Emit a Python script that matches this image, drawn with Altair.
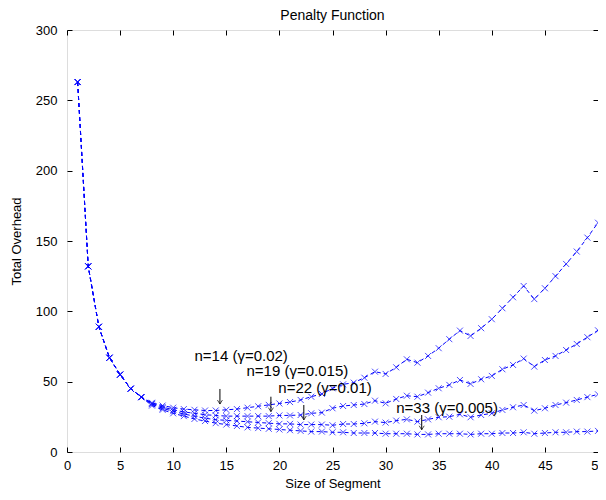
import altair as alt
import pandas as pd

n_values = list(range(1, 51))

overhead_g020 = [263, 132, 89, 67, 55, 45, 39, 35, 33, 31.5,
                 30.5, 30, 29.5, 29.5, 30, 30.5, 31.5, 32.5, 33.5, 34.5,
                 35.5, 37, 39.3, 41.3, 45.3, 48.1, 49.3, 52.8, 57.1, 55.5,
                 60.2, 65.9, 63.5, 68.3, 73.8, 80.2, 86.3, 82.5, 88, 94.4,
                 102.2, 110, 118, 108.7, 116.4, 125, 133.7, 142.5, 152.4, 163]
overhead_g015 = [263, 132, 89, 67, 55, 45, 39, 34.5, 32, 30,
                 28.5, 27.5, 26.5, 26, 25.5, 25.5, 25.5, 25.5, 25.5, 26,
                 26, 26.3, 27.5, 28, 31.1, 32.7, 33.4, 34.1, 36.5, 34.6,
                 37.7, 40, 39.3, 42.2, 45.3, 47.7, 51.2, 48.4, 51.7, 54.1,
                 58.8, 61.9, 66.4, 60.7, 65.4, 68.3, 72.5, 76.8, 81.6, 86.5]
overhead_g010 = [263, 132, 89, 67, 55, 45, 39, 34, 31, 29,
                 27, 25.5, 24, 23, 22.5, 22, 21.5, 21, 20.5, 20,
                 20, 19.5, 19.5, 19.5, 19, 19.9, 19.9, 20.4, 21.6, 20.9,
                 22.3, 23.2, 21.6, 23.2, 24.7, 25.1, 26.8, 24.7, 26.3, 27.5,
                 29.9, 31.8, 33.4, 29.4, 31.1, 33.4, 35.1, 37, 39, 41]
overhead_g005 = [263, 132, 89, 67, 55, 45, 39, 33, 30, 27.5,
                 25.5, 23.5, 22, 20.5, 19.5, 18.5, 17.5, 17, 16.5, 16,
                 15.5, 15, 14.5, 14.5, 14, 14, 13.5, 13.5, 13.5, 13,
                 13, 13, 12.5, 12.5, 13, 13, 13, 12.5, 13, 13,
                 13.5, 13.5, 14, 13, 13.5, 14, 14, 14.5, 14.5, 15]

series_names = ["0.02", "0.015", "0.01", "0.005"]
series_values = [overhead_g020, overhead_g015, overhead_g010, overhead_g005]

ann_text = ["n=14 (\u03b3=0.02)", "n=19 (\u03b3=0.015)", "n=22 (\u03b3=0.01)", "n=33 (\u03b3=0.005)"]
ann_x = [12.0, 16.9, 19.9, 31.0]
ann_y = [68.3, 57.6, 45.5, 31.6]
arrow_x = [14.4, 19.2, 22.3, 33.4]
arrow_top = [44.8, 39.3, 33.4, 26.3]
arrow_tip = [34.1, 28.7, 22.8, 15.8]

rows = []
for name, vals in zip(series_names, series_values):
    for n, v in zip(n_values, vals):
        rows.append({"n": n, "overhead": v, "gamma": name})
df = pd.DataFrame(rows)

ann_df = pd.DataFrame({"x": ann_x, "y": ann_y, "label": ann_text})
arr_df = pd.DataFrame({"x": arrow_x, "top": arrow_top, "tip": arrow_tip})

W, H = 531, 422
FONT = "Liberation Sans"
BLUE = "#0000ff"

xscale = alt.Scale(domain=[0, 50], nice=False, zero=False)
yscale = alt.Scale(domain=[0, 300], nice=False, zero=False)
xticks = list(range(0, 51, 5))
yticks = list(range(0, 301, 50))

def tick_axis(values, orient, offset):
    return alt.Axis(values=values, orient=orient, offset=offset, labels=False,
                    domain=False, grid=False, ticks=True, tickSize=5,
                    tickColor="black", title=None)

lines = alt.Chart(df).mark_line(color=BLUE, strokeDash=[4, 3], strokeWidth=1).encode(
    x=alt.X("n:Q", scale=xscale,
            axis=alt.Axis(values=xticks, title="Size of Segment", domain=False, grid=False,
                          ticks=False, tickSize=0, labelPadding=7, titlePadding=5,
                          labelFontSize=13, titleFontSize=13, titleFontWeight="normal",
                          labelFont=FONT, titleFont=FONT, labelColor="black",
                          titleColor="black", labelFlush=False)),
    y=alt.Y("overhead:Q", scale=yscale,
            axis=alt.Axis(values=yticks, title="Total Overhead", domain=False, grid=False,
                          ticks=False, tickSize=0, labelPadding=10, titlePadding=12,
                          labelFontSize=13, titleFontSize=13, titleFontWeight="normal",
                          labelFont=FONT, titleFont=FONT, labelColor="black",
                          titleColor="black", labelFlush=False)),
    detail="gamma:N",
)

points = alt.Chart(df).mark_point(
    shape="M-1,-1L1,1M-1,1L1,-1", color=BLUE, filled=False, size=36, strokeWidth=1
).encode(
    x=alt.X("n:Q", scale=xscale, axis=tick_axis(xticks, "top", -H)),
    y=alt.Y("overhead:Q", scale=yscale, axis=tick_axis(yticks, "right", -W)),
    detail="gamma:N",
)

labels = alt.Chart(ann_df).mark_text(
    align="left", baseline="middle", font=FONT, fontSize=15, color="black"
).encode(
    x=alt.X("x:Q", scale=xscale, axis=tick_axis(xticks, "bottom", -H)),
    y=alt.Y("y:Q", scale=yscale, axis=tick_axis(yticks, "left", -W)),
    text="label:N",
)

arrow_stems = alt.Chart(arr_df).mark_rule(color="black", strokeWidth=1).encode(
    x=alt.X("x:Q", scale=xscale, axis=None),
    y=alt.Y("top:Q", scale=yscale, axis=None),
    y2="tip:Q",
)

arrow_heads = alt.Chart(arr_df).mark_point(
    shape="M-1,-1.6L0,0L1,-1.6", color="black", filled=False, size=25, strokeWidth=1
).encode(
    x=alt.X("x:Q", scale=xscale, axis=None),
    y=alt.Y("tip:Q", scale=yscale, axis=None),
)

chart = alt.layer(lines, points, labels, arrow_stems, arrow_heads).resolve_axis(
    x="independent", y="independent"
).properties(
    width=W, height=H,
    title=alt.TitleParams("Penalty Function", fontSize=14, font=FONT, frame="group",
                          fontWeight="normal", color="black", offset=1),
    autosize=alt.AutoSizeParams(type="none"),
    padding={"left": 59, "top": 22, "right": 0, "bottom": 40},
).configure_view(stroke="black", strokeWidth=1).configure(background="white")

chart.save("out.html", embed_options={"renderer": "svg", "actions": False})
